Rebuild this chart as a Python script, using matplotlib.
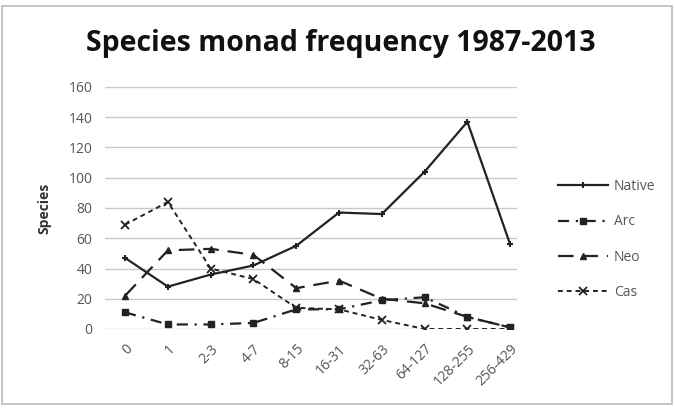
import matplotlib
matplotlib.use('Agg')
import matplotlib.pyplot as plt
from matplotlib.patches import Rectangle

plt.rcParams['font.family'] = ['Open Sans', 'DejaVu Sans']

categories = ['0', '1', '2-3', '4-7', '8-15', '16-31', '32-63', '64-127', '128-255', '256-429']
native = [47, 28, 36, 42, 55, 77, 76, 104, 137, 56]
arc = [11, 3, 3, 4, 13, 13, 19, 21, 8, 1]
neo = [22, 52, 53, 49, 27, 32, 20, 17, 8, 1]
cas = [69, 84, 40, 33, 14, 13, 6, 0, 0, 0]

fig = plt.figure(figsize=(6.74, 4.12), dpi=100)
ax = fig.add_axes([105/674, 1 - 329/412, (517-105)/674, (329-87)/412])

x = range(len(categories))
col = '#222222'
ax.plot(x, native, color=col, lw=1.6, marker='+', ms=5, mew=1.5, label='Native')
ax.plot(x, arc, color=col, lw=1.6, ls=(0, (5, 3, 1, 3)), marker='s', ms=5, label='Arc')
ax.plot(x, neo, color=col, lw=1.6, ls=(0, (7, 4)), marker='^', ms=5, label='Neo')
ax.plot(x, cas, color=col, lw=1.4, ls=(0, (2.5, 2)), marker='x', ms=6, mew=1.3, label='Cas')

ax.set_ylim(0, 160)
ax.set_yticks(range(0, 161, 20))
ax.set_xlim(-0.47, 9.16)
ax.set_xticks(list(x))
ax.set_xticklabels(categories, rotation=45, ha='right', rotation_mode='anchor')
ax.yaxis.grid(True, color='#c8c8c8', lw=1)
ax.set_axisbelow(True)
for s in ax.spines.values():
    s.set_visible(False)
ax.tick_params(length=0, labelsize=10, colors='#555555', pad=9)
ax.set_ylabel('Species', fontsize=10, fontweight='bold', color='#333333', labelpad=12)

fig.suptitle('Species monad frequency 1987-2013', x=0.505, y=0.93, fontsize=20.5,
             fontweight='bold', color='#111111')

ax.legend(loc='center left', bbox_to_anchor=(1.07, 0.37), frameon=False, fontsize=10,
          handlelength=3.6, handletextpad=0.4, labelspacing=1.45, labelcolor='#555555')

fig.patches.append(Rectangle((0.003, 0.02), 0.994, 0.965, transform=fig.transFigure,
                             fill=False, edgecolor='#bbbbbb', lw=1.2))

fig.savefig('out.png', dpi=100, facecolor='white')
